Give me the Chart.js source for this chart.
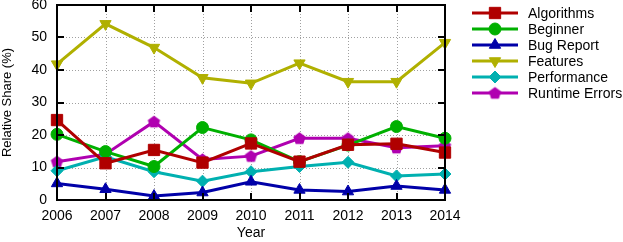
<!DOCTYPE html>
<html>
<head>
<meta charset="utf-8">
<script src="https://cdn.jsdelivr.net/npm/chart.js@4"></script>
<style>
  html, body { margin: 0; padding: 0; background: #fff; }
</style>
</head>
<body>
<canvas id="chart" width="623" height="242"></canvas>
<script>
// Data
const years = ['2006', '2007', '2008', '2009', '2010', '2011', '2012', '2013', '2014'];
const algorithms = [24.6, 11.3, 15.4, 11.5, 17.4, 11.8, 17.0, 17.3, 14.6];
const beginner = [20.2, 14.9, 10.3, 22.3, 18.5, 11.8, 16.9, 22.6, 19.0];
const bugReport = [5.1, 3.3, 1.2, 2.3, 5.6, 3.1, 2.6, 4.3, 3.1];
const features = [41.8, 54.2, 46.9, 37.6, 35.9, 42.1, 36.4, 36.4, 48.4];
const perfShare = [9.0, 13.3, 8.7, 5.8, 8.7, 10.3, 11.6, 7.4, 8.0];
const runtimeErrors = [11.8, 14.1, 24.1, 12.5, 13.5, 19.0, 19.0, 16.1, 16.7];

const FONT = 'Liberation Sans, Arial, sans-serif';

// Chart.js has no pentagon, so make one
function pentagon(color, r) {
  const c = document.createElement('canvas');
  const s = Math.ceil(r * 2 + 2);
  c.width = s; c.height = s;
  const g = c.getContext('2d');
  g.fillStyle = color;
  g.beginPath();
  for (let i = 0; i < 5; i++) {
    const a = -Math.PI / 2 + i * 2 * Math.PI / 5;
    const px = s / 2 + r * Math.cos(a);
    const py = s / 2 + r * Math.sin(a) + 0.5;
    if (i === 0) g.moveTo(px, py); else g.lineTo(px, py);
  }
  g.closePath();
  g.fill();
  return c;
}

function series(label, data, color, style, radius, rotation) {
  return {
    label: label,
    data: data,
    borderColor: color,
    backgroundColor: color,
    borderWidth: 3,
    pointStyle: style,
    pointRadius: radius,
    pointHoverRadius: radius,
    pointRotation: rotation || 0,
    pointBorderWidth: 1,
    pointBackgroundColor: color,
    pointBorderColor: color,
    tension: 0
  };
}

const datasets = [
  series('Algorithms', algorithms, '#b00000', 'rect', 8),
  series('Beginner', beginner, '#00b000', 'circle', 6),
  series('Bug Report', bugReport, '#0000a8', 'triangle', 6.5),
  series('Features', features, '#b0b000', 'triangle', 6.5, 180),
  series('Performance', perfShare, '#00b0b0', 'rectRot', 6),
  series('Runtime Errors', runtimeErrors, '#b000b0', pentagon('#b000b0', 6.5), 6.5)
];

// dotted grid under the lines
function drawGrid(chart) {
  const ctx = chart.ctx;
  const a = chart.chartArea;
  const xs = chart.scales.x, ys = chart.scales.y;
  ctx.save();
  ctx.strokeStyle = '#a0a0a0';
  ctx.lineWidth = 1;
  ctx.setLineDash([1, 2]);
  ctx.beginPath();
  ys.ticks.forEach(t => {
    const y = Math.round(ys.getPixelForValue(t.value)) + 0.5;
    ctx.moveTo(a.left, y); ctx.lineTo(a.right, y);
  });
  years.forEach((yr, i) => {
    const x = Math.round(xs.getPixelForValue(i)) + 0.5;
    ctx.moveTo(x, a.top); ctx.lineTo(x, a.bottom);
  });
  ctx.stroke();
  ctx.restore();
}

// frame and inward ticks, gnuplot style (filled bars, 2px)
function drawFrame(chart) {
  const ctx = chart.ctx;
  const a = chart.chartArea;
  const xs = chart.scales.x, ys = chart.scales.y;
  const L = Math.round(a.left), R = Math.round(a.right);
  const T = Math.round(a.top), B = Math.round(a.bottom);
  ctx.save();
  ctx.fillStyle = '#000';
  ys.ticks.forEach(t => {
    const y = Math.round(ys.getPixelForValue(t.value));
    ctx.fillRect(L, y - 1, 7, 2);
    ctx.fillRect(R - 7, y - 1, 7, 2);
  });
  years.forEach((yr, i) => {
    const x = Math.round(xs.getPixelForValue(i));
    ctx.fillRect(x - 1, B - 7, 2, 7);
    ctx.fillRect(x - 1, T, 2, 7);
  });
  ctx.fillRect(L - 1, T - 1, R - L + 2, 2);
  ctx.fillRect(L - 1, B - 1, R - L + 2, 2);
  ctx.fillRect(L - 1, T - 1, 2, B - T + 2);
  ctx.fillRect(R - 1, T - 1, 2, B - T + 2);
  ctx.restore();
}

function drawLegend(chart) {
  const ctx = chart.ctx;
  ctx.save();
  ctx.font = '14px ' + FONT;
  ctx.textBaseline = 'middle';
  ctx.textAlign = 'left';
  chart.data.datasets.forEach((ds, i) => {
    const y = 13 + i * 16;
    ctx.strokeStyle = ds.borderColor;
    ctx.lineWidth = 3;
    ctx.beginPath();
    ctx.moveTo(472, y); ctx.lineTo(518, y);
    ctx.stroke();
    ctx.fillStyle = ds.borderColor;
    ctx.strokeStyle = ds.borderColor;
    ctx.lineWidth = 1;
    Chart.helpers.drawPoint(ctx, {
      pointStyle: ds.pointStyle,
      rotation: ds.pointRotation,
      radius: ds.pointRadius,
      borderWidth: 1
    }, 495, y);
    ctx.fillStyle = '#000';
    ctx.fillText(ds.label, 528, y + 1);
  });
  ctx.restore();
}

const gnuplotLook = {
  id: 'gnuplotLook',
  beforeDatasetsDraw(chart) {
    drawGrid(chart);
  },
  afterDraw(chart) {
    drawFrame(chart);
    drawLegend(chart);
  }
};

new Chart(document.getElementById('chart'), {
  type: 'line',
  data: { labels: years, datasets: datasets },
  options: {
    responsive: false,
    animation: false,
    layout: { autoPadding: false, padding: { top: 5, right: 178, left: 0, bottom: 0 } },
    plugins: {
      legend: { display: false },
      tooltip: { enabled: false }
    },
    scales: {
      x: {
        offset: false,
        afterFit: s => { s.height = 42; s.paddingLeft = 0; s.paddingRight = 0; },
        grid: { display: false, drawTicks: false },
        border: { display: false },
        ticks: {
          color: '#000',
          font: { family: FONT, size: 14 },
          padding: 8,
          maxRotation: 0,
          autoSkip: false
        },
        title: {
          display: true,
          text: 'Year',
          color: '#000',
          font: { family: FONT, size: 14 },
          padding: { top: 0, bottom: 0 }
        }
      },
      y: {
        min: 0,
        max: 60,
        afterFit: s => { s.width = 57; s.paddingTop = 0; s.paddingBottom = 0; },
        grid: { display: false, drawTicks: false },
        border: { display: false },
        ticks: {
          stepSize: 10,
          color: '#000',
          font: { family: FONT, size: 14 },
          padding: 10
        },
        title: {
          display: true,
          text: 'Relative Share (%)',
          color: '#000',
          font: { family: FONT, size: 13 },
          padding: { top: 0, bottom: 0 }
        }
      }
    }
  },
  plugins: [gnuplotLook]
});
</script>
</body>
</html>
